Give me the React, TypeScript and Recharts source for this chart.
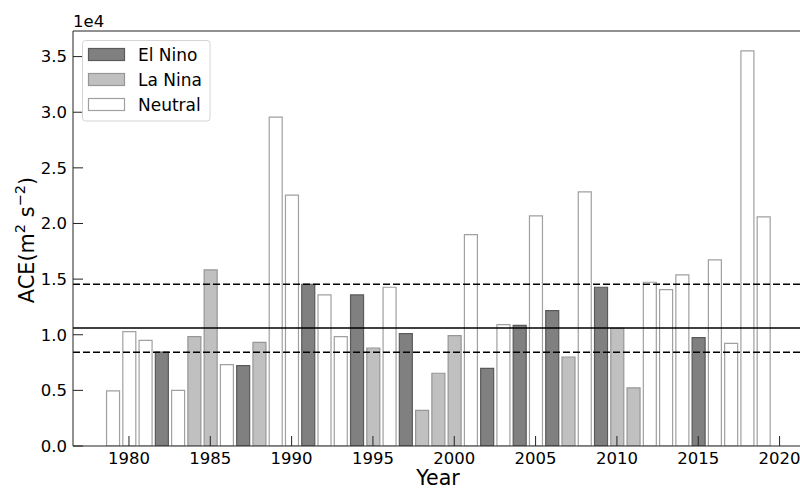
import { BarChart, Bar, XAxis, YAxis, ReferenceLine, Legend } from "recharts";

// Annual ACE per season, 1979-2019
const YEARS = [
  1979, 1980, 1981, 1982, 1983, 1984, 1985, 1986, 1987, 1988, 1989, 1990, 1991,
  1992, 1993, 1994, 1995, 1996, 1997, 1998, 1999, 2000, 2001, 2002, 2003, 2004,
  2005, 2006, 2007, 2008, 2009, 2010, 2011, 2012, 2013, 2014, 2015, 2016, 2017,
  2018, 2019,
];

const ACE = [
  4950, 10280, 9500, 8450, 5000, 9830, 15830, 7310, 7220, 9320, 29560, 22540,
  14540, 13580, 9830, 13580, 8810, 14270, 10100, 3210, 6540, 9920, 19000, 6980,
  10910, 10850, 20680, 12170, 8000, 22840, 14270, 10580, 5220, 14720, 14060,
  15380, 9740, 16730, 9230, 35520, 20590,
];

const PHASES = [
  "Neutral", "Neutral", "Neutral", "El Nino", "Neutral", "La Nina", "La Nina",
  "Neutral", "El Nino", "La Nina", "Neutral", "Neutral", "El Nino", "Neutral",
  "Neutral", "El Nino", "La Nina", "Neutral", "El Nino", "La Nina", "La Nina",
  "La Nina", "Neutral", "El Nino", "Neutral", "El Nino", "Neutral", "El Nino",
  "La Nina", "Neutral", "El Nino", "La Nina", "La Nina", "Neutral", "Neutral",
  "Neutral", "El Nino", "Neutral", "Neutral", "Neutral", "Neutral",
];

const SERIES = [
  { key: "elNino", name: "El Nino", fill: "#808080", stroke: "#5a5a5a" },
  { key: "laNina", name: "La Nina", fill: "#c0c0c0", stroke: "#969696" },
  { key: "neutral", name: "Neutral", fill: "#ffffff", stroke: "#a0a0a0" },
];

const X_TICKS = [1980, 1985, 1990, 1995, 2000, 2005, 2010, 2015, 2020];
const Y_TICKS = [0, 5000, 10000, 15000, 20000, 25000, 30000, 35000];
const X_DOMAIN = [1976.56, 2021.44];
const Y_DOMAIN = [0, 37300];

// horizontal reference levels
const MID_ACE = 10610;
const UPPER_ACE = 14540;
const LOWER_ACE = 8430;

const rows = YEARS.map((year, i) => {
  const row: Record<string, number | null> = { year };
  SERIES.forEach((s) => {
    row[s.key] = PHASES[i] === s.name ? ACE[i] : null;
  });
  return row;
});

const AXIS = "#222";
const tickFont = { fontSize: 16.5, fill: "#000" };

function LegendBox(props: any) {
  const payload = props.payload || [];
  return (
    <svg width={131} height={83} style={{ display: "block" }}>
      <rect
        x={1.5}
        y={0.5}
        width={127.5}
        height={80.5}
        rx={3}
        fill="#fff"
        fillOpacity={0.8}
        stroke="#d4d4d4"
      />
      {payload.map((entry: any, i: number) => {
        const s = SERIES.find((d) => d.key === entry.dataKey) || SERIES[i];
        return (
          <g key={s.key}>
            <rect
              x={7.5}
              y={8.5 + i * 25}
              width={36}
              height={12}
              fill={s.fill}
              stroke={s.stroke}
              strokeWidth={1.2}
            />
            <text x={57} y={20.8 + i * 25} fontSize={17} fill="#000">
              {entry.value}
            </text>
          </g>
        );
      })}
    </svg>
  );
}

function yLabel() {
  return (
    <text
      transform="translate(34,240) rotate(-90)"
      textAnchor="middle"
      fontSize={20.8}
      fill="#000"
    >
      ACE(m
      <tspan dy={-9.5} fontSize={14.6}>
        2
      </tspan>
      <tspan dy={9.5}> s</tspan>
      <tspan dy={-9.5} fontSize={14.6}>
        −2
      </tspan>
      <tspan dy={9.5}>)</tspan>
    </text>
  );
}

function xLabel(props: any) {
  const vb = props.viewBox || { x: 73, width: 730 };
  return (
    <text
      x={vb.x + vb.width / 2}
      y={485}
      textAnchor="middle"
      fontSize={20.6}
      fill="#000"
    >
      Year
    </text>
  );
}

function offsetLabel(props: any) {
  const vb = props.viewBox || { x: 73 };
  return (
    <text x={vb.x} y={27} fontSize={16.5} fill="#000">
      1e4
    </text>
  );
}

export default function App() {
  return (
    <div
      style={{
        width: 800,
        height: 490,
        overflow: "hidden",
        position: "relative",
        fontFamily: "'DejaVu Sans', sans-serif",
        background: "#fff",
      }}
    >
      <style>{"body{margin:0}"}</style>
      <BarChart
        width={804}
        height={490}
        data={rows}
        margin={{ top: 30, right: 0, bottom: 0, left: 0 }}
      >
        <XAxis
          dataKey="year"
          type="number"
          domain={X_DOMAIN}
          ticks={X_TICKS}
          allowDataOverflow
          height={44}
          tickSize={-10}
          tickMargin={16}
          tick={tickFont}
          axisLine={{ stroke: AXIS }}
          tickLine={{ stroke: AXIS }}
          label={xLabel}
        />
        <XAxis
          xAxisId="top"
          dataKey="year"
          type="number"
          orientation="top"
          domain={X_DOMAIN}
          ticks={X_TICKS}
          allowDataOverflow
          height={1}
          tickSize={-10}
          tick={false}
          axisLine={{ stroke: AXIS }}
          tickLine={{ stroke: AXIS }}
          label={offsetLabel}
        />
        <YAxis
          domain={Y_DOMAIN}
          ticks={Y_TICKS}
          allowDataOverflow
          width={73}
          tickSize={-10}
          tickMargin={16}
          tick={tickFont}
          tickFormatter={(v: number) => (v / 10000).toFixed(1)}
          axisLine={{ stroke: AXIS }}
          tickLine={{ stroke: AXIS }}
          label={yLabel}
        />
        <YAxis
          yAxisId="right"
          orientation="right"
          domain={Y_DOMAIN}
          ticks={Y_TICKS}
          allowDataOverflow
          width={1}
          tickSize={-10}
          tick={false}
          axisLine={{ stroke: AXIS }}
          tickLine={{ stroke: AXIS }}
        />
        {SERIES.map((s) => (
          <Bar
            key={s.key}
            dataKey={s.key}
            name={s.name}
            stackId="ace"
            barSize={13}
            fill={s.fill}
            stroke={s.stroke}
            strokeWidth={1.2}
            isAnimationActive={false}
          />
        ))}
        <ReferenceLine y={MID_ACE} stroke="#000" strokeWidth={1.6} />
        <ReferenceLine
          y={UPPER_ACE}
          stroke="#000"
          strokeWidth={1.6}
          strokeDasharray="7 3"
        />
        <ReferenceLine
          y={LOWER_ACE}
          stroke="#000"
          strokeWidth={1.6}
          strokeDasharray="7 3"
        />
        <Legend
          layout="vertical"
          align="center"
          verticalAlign="middle"
          content={LegendBox}
          wrapperStyle={{ left: 81, top: 40, width: 131, height: 83 }}
        />
      </BarChart>
    </div>
  );
}
